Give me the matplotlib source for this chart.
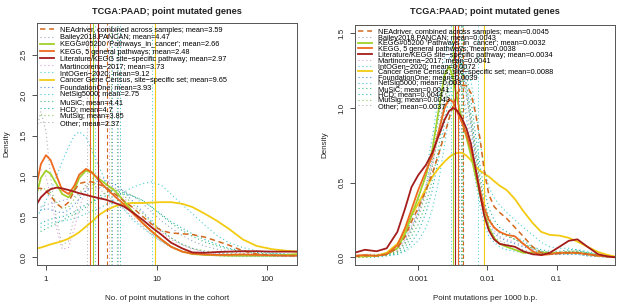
import numpy as np
import matplotlib
matplotlib.use("Agg")
import matplotlib.pyplot as plt

plt.rcParams['font.family'] = ['Liberation Sans', 'DejaVu Sans']

# --- legend / series names ---
names = ["NEAdriver, combined across samples", "Bailey2018.PANCAN",
         "KEGG#05200 'Pathways_in_cancer'", "KEGG, 5 general pathways",
         "Literature/KEGG site\u2212specific pathway", "Martincorena\u22122017",
         "IntOGen\u22122020", "Cancer Gene Census, site\u2212specific set",
         "FoundationOne", "NetSig5000", "MuSiC", "HCD", "MutSig", "Other"]
colors = ["#D2691E", "#9AA6C4", "#A2D12B", "#EE6A1F", "#A51C1C", "#D9A0D2",
          "#48CFCB", "#F2CB12", "#4A90D9", "#40C4E0", "#3CB878", "#20B2AA",
          "#82C95A", "#B0B0B0"]
styles = ["dash", "dot", "solid", "solid", "solid", "dot", "dot", "solid",
          "dot", "dot", "dot", "dot", "dot", "dot"]

means_left = [3.59, 4.47, 2.66, 2.48, 2.97, 3.73, 9.12, 9.65, 3.93, 2.75, 4.41, 4.7, 3.85, 2.37]
means_right = [0.0045, 0.0043, 0.0032, 0.0038, 0.0034, 0.0041, 0.0072, 0.0088,
               0.0039, 0.003, 0.0041, 0.0044, 0.0043, 0.0037]

# --- left panel: no. of point mutations in the cohort ---
x_left = [0.83, 0.9, 1.0, 1.1, 1.25, 1.4, 1.6, 1.8, 2.0, 2.3, 2.6, 3.0, 3.5, 4.2, 5.0,
          6.0, 7.5, 9.0, 11, 13.5, 17, 21, 27, 35, 45, 60, 80, 110, 150, 185]
neadriver_l = [0.85, 0.85, 0.82, 0.76, 0.66, 0.61, 0.68, 0.82, 0.91, 0.93, 0.93, 0.9, 0.86, 0.78, 0.7,
               0.62, 0.5, 0.41, 0.33, 0.3, 0.29, 0.28, 0.25, 0.2, 0.15, 0.08, 0.04, 0.025, 0.02, 0.02]
bailey_l = [0.6, 0.62, 0.65, 0.66, 0.68, 0.7, 0.72, 0.75, 0.78, 0.82, 0.85, 0.86, 0.86, 0.85, 0.82,
            0.76, 0.66, 0.56, 0.45, 0.36, 0.27, 0.2, 0.14, 0.1, 0.07, 0.05, 0.04, 0.03, 0.02, 0.02]
kegg05200_l = [0.8, 0.98, 1.07, 1.03, 0.9, 0.78, 0.74, 0.83, 0.98, 1.07, 1.04, 0.97, 0.9, 0.82, 0.7,
               0.57, 0.42, 0.32, 0.22, 0.13, 0.07, 0.04, 0.03, 0.025, 0.02, 0.02, 0.02, 0.02, 0.03, 0.04]
kegg5_l = [0.92, 1.15, 1.26, 1.2, 1.0, 0.83, 0.78, 0.88, 1.02, 1.09, 1.05, 0.95, 0.85, 0.75, 0.66,
           0.55, 0.42, 0.32, 0.22, 0.13, 0.07, 0.045, 0.035, 0.03, 0.03, 0.035, 0.03, 0.025, 0.02, 0.02]
literature_l = [0.66, 0.74, 0.8, 0.84, 0.86, 0.85, 0.83, 0.81, 0.79, 0.77, 0.75, 0.73, 0.71, 0.67, 0.63,
                0.56, 0.46, 0.37, 0.28, 0.18, 0.11, 0.06, 0.055, 0.065, 0.07, 0.075, 0.075, 0.07, 0.07, 0.07]
martincorena_l = [1.1, 1.08, 1.0, 0.75, 0.35, 0.1, 0.12, 0.35, 0.6, 0.85, 0.97, 1.0, 0.95, 0.86, 0.74,
                  0.62, 0.5, 0.4, 0.31, 0.22, 0.15, 0.1, 0.06, 0.04, 0.03, 0.02, 0.02, 0.02, 0.01, 0.01]
intogen_l = [0.35, 0.37, 0.4, 0.42, 0.44, 0.45, 0.46, 0.48, 0.5, 0.54, 0.57, 0.6, 0.65, 0.72, 0.8,
             0.86, 0.91, 0.93, 0.89, 0.78, 0.65, 0.54, 0.4, 0.27, 0.18, 0.12, 0.08, 0.05, 0.04, 0.03]
cgc_l = [0.11, 0.12, 0.14, 0.16, 0.18, 0.2, 0.23, 0.27, 0.31, 0.38, 0.44, 0.52, 0.58, 0.63, 0.66,
         0.67, 0.67, 0.675, 0.68, 0.68, 0.66, 0.62, 0.54, 0.45, 0.35, 0.22, 0.14, 0.1, 0.08, 0.07]
foundation_l = [0.55, 0.58, 0.6, 0.59, 0.56, 0.55, 0.58, 0.65, 0.72, 0.82, 0.9, 0.95, 0.94, 0.9, 0.82,
                0.7, 0.56, 0.44, 0.33, 0.24, 0.16, 0.11, 0.07, 0.05, 0.04, 0.03, 0.02, 0.02, 0.02, 0.02]
netsig_l = [0.5, 0.58, 0.7, 0.82, 1.0, 1.18, 1.36, 1.5, 1.55, 1.48, 1.32, 1.12, 0.92, 0.75, 0.6,
            0.47, 0.36, 0.28, 0.2, 0.13, 0.08, 0.05, 0.03, 0.02, 0.02, 0.01, 0.01, 0.01, 0.01, 0.01]
music_l = [0.3, 0.32, 0.35, 0.38, 0.42, 0.45, 0.5, 0.53, 0.56, 0.62, 0.68, 0.75, 0.8, 0.82, 0.8,
           0.76, 0.7, 0.62, 0.52, 0.42, 0.33, 0.26, 0.19, 0.14, 0.1, 0.07, 0.05, 0.04, 0.03, 0.03]
hcd_l = [0.4, 0.42, 0.45, 0.47, 0.49, 0.5, 0.53, 0.56, 0.6, 0.65, 0.69, 0.72, 0.76, 0.78, 0.78,
         0.76, 0.7, 0.62, 0.53, 0.44, 0.36, 0.29, 0.22, 0.16, 0.11, 0.08, 0.06, 0.05, 0.04, 0.03]
mutsig_l = [0.8, 0.83, 0.85, 0.8, 0.68, 0.6, 0.62, 0.72, 0.8, 0.87, 0.9, 0.9, 0.88, 0.84, 0.77,
            0.66, 0.54, 0.43, 0.33, 0.24, 0.16, 0.11, 0.08, 0.06, 0.05, 0.04, 0.03, 0.03, 0.02, 0.02]
other_l = [1.6, 1.8, 1.55, 1.0, 0.45, 0.15, 0.2, 0.5, 0.75, 0.9, 0.9, 0.85, 0.77, 0.68, 0.6,
           0.5, 0.38, 0.28, 0.19, 0.12, 0.07, 0.04, 0.03, 0.02, 0.01, 0.01, 0.01, 0.01, 0.01, 0.01]

# --- right panel: point mutations per 1000 b.p. ---
x_right = [1.2e-4, 1.7e-4, 2.5e-4, 3.5e-4, 5e-4, 6.5e-4, 8e-4, 1e-3, 1.3e-3, 1.6e-3, 2e-3, 2.4e-3,
           2.8e-3, 3.2e-3, 3.7e-3, 4.3e-3, 5e-3, 5.8e-3, 6.7e-3, 7.8e-3, 9e-3, 0.0105, 0.0125,
           0.015, 0.019, 0.025, 0.033, 0.045, 0.06, 0.08, 0.11, 0.15, 0.2, 0.28, 0.4, 0.55, 0.7]
neadriver_r = [0.005, 0.01, 0.01, 0.02, 0.06, 0.14, 0.24, 0.33, 0.45, 0.56, 0.7, 0.82, 0.93, 1.02, 1.1,
               1.15, 1.15, 1.1, 0.97, 0.8, 0.58, 0.42, 0.34, 0.3, 0.26, 0.2, 0.14, 0.07, 0.03, 0.02,
               0.025, 0.03, 0.03, 0.02, 0.01, 0.005, 0.0]
bailey_r = [0.005, 0.01, 0.01, 0.02, 0.04, 0.09, 0.17, 0.27, 0.42, 0.6, 0.85, 1.05, 1.22, 1.32, 1.35,
            1.3, 1.15, 0.95, 0.72, 0.5, 0.34, 0.25, 0.2, 0.17, 0.15, 0.12, 0.09, 0.06, 0.04, 0.03,
            0.03, 0.04, 0.04, 0.03, 0.015, 0.005, 0.0]
kegg05200_r = [0.01, 0.01, 0.01, 0.02, 0.06, 0.16, 0.28, 0.4, 0.55, 0.72, 1.0, 1.22, 1.28, 1.2, 1.05,
               0.92, 0.8, 0.68, 0.55, 0.42, 0.3, 0.2, 0.13, 0.09, 0.07, 0.05, 0.03, 0.03, 0.03, 0.03,
               0.03, 0.03, 0.03, 0.02, 0.01, 0.005, 0.0]
kegg5_r = [0.01, 0.015, 0.01, 0.02, 0.08, 0.2, 0.32, 0.45, 0.58, 0.68, 0.85, 1.0, 1.06, 1.04, 0.97,
           0.9, 0.82, 0.72, 0.6, 0.45, 0.33, 0.25, 0.2, 0.17, 0.15, 0.14, 0.09, 0.04, 0.015, 0.02,
           0.03, 0.03, 0.03, 0.02, 0.01, 0.005, 0.0]
literature_r = [0.03, 0.05, 0.04, 0.06, 0.17, 0.33, 0.47, 0.55, 0.62, 0.7, 0.82, 0.92, 0.98, 1.0, 0.98,
                0.93, 0.86, 0.76, 0.6, 0.43, 0.28, 0.18, 0.12, 0.09, 0.08, 0.07, 0.04, 0.02, 0.015, 0.03,
                0.07, 0.11, 0.12, 0.07, 0.02, 0.005, 0.0]
martincorena_r = [0.01, 0.01, 0.01, 0.02, 0.05, 0.12, 0.2, 0.3, 0.45, 0.62, 0.85, 1.02, 1.15, 1.22, 1.25,
                  1.2, 1.08, 0.9, 0.7, 0.5, 0.35, 0.25, 0.18, 0.14, 0.12, 0.1, 0.08, 0.05, 0.03, 0.02,
                  0.02, 0.03, 0.03, 0.02, 0.01, 0.005, 0.0]
intogen_r = [0.0, 0.0, 0.0, 0.01, 0.02, 0.04, 0.07, 0.11, 0.2, 0.32, 0.52, 0.75, 0.95, 1.12, 1.25,
             1.3, 1.28, 1.18, 1.0, 0.78, 0.6, 0.47, 0.4, 0.35, 0.3, 0.25, 0.2, 0.15, 0.1, 0.07,
             0.06, 0.06, 0.05, 0.04, 0.02, 0.01, 0.0]
cgc_r = [0.005, 0.005, 0.01, 0.03, 0.09, 0.18, 0.28, 0.36, 0.46, 0.54, 0.6, 0.64, 0.67, 0.69, 0.7,
         0.7, 0.68, 0.65, 0.61, 0.58, 0.56, 0.54, 0.51, 0.48, 0.45, 0.39, 0.31, 0.23, 0.17, 0.15,
         0.145, 0.13, 0.105, 0.07, 0.035, 0.015, 0.005]
foundation_r = [0.01, 0.01, 0.01, 0.02, 0.04, 0.1, 0.19, 0.3, 0.48, 0.68, 0.95, 1.18, 1.33, 1.4, 1.38,
                1.28, 1.1, 0.88, 0.66, 0.46, 0.32, 0.22, 0.16, 0.13, 0.11, 0.09, 0.07, 0.05, 0.03, 0.02,
                0.02, 0.02, 0.02, 0.01, 0.005, 0.0, 0.0]
netsig_r = [0.01, 0.015, 0.01, 0.02, 0.06, 0.14, 0.25, 0.38, 0.58, 0.8, 1.1, 1.32, 1.45, 1.42, 1.3,
            1.12, 0.92, 0.72, 0.52, 0.35, 0.22, 0.14, 0.1, 0.07, 0.05, 0.04, 0.03, 0.02, 0.02, 0.02,
            0.02, 0.02, 0.02, 0.01, 0.005, 0.0, 0.0]
music_r = [0.0, 0.005, 0.01, 0.015, 0.03, 0.07, 0.14, 0.22, 0.36, 0.52, 0.75, 0.98, 1.15, 1.27, 1.32,
           1.28, 1.15, 0.96, 0.75, 0.55, 0.38, 0.27, 0.2, 0.16, 0.14, 0.12, 0.09, 0.06, 0.04, 0.03,
           0.03, 0.04, 0.04, 0.03, 0.015, 0.005, 0.0]
hcd_r = [0.0, 0.0, 0.005, 0.01, 0.02, 0.05, 0.1, 0.17, 0.3, 0.45, 0.68, 0.9, 1.08, 1.2, 1.28,
         1.3, 1.22, 1.05, 0.83, 0.62, 0.45, 0.33, 0.25, 0.2, 0.17, 0.14, 0.11, 0.07, 0.05, 0.04,
         0.04, 0.05, 0.05, 0.03, 0.015, 0.005, 0.0]
mutsig_r = [0.005, 0.01, 0.01, 0.02, 0.04, 0.1, 0.18, 0.28, 0.44, 0.62, 0.86, 1.06, 1.2, 1.27, 1.28,
            1.22, 1.08, 0.9, 0.7, 0.5, 0.35, 0.26, 0.2, 0.17, 0.15, 0.12, 0.09, 0.06, 0.04, 0.03,
            0.03, 0.04, 0.04, 0.03, 0.015, 0.005, 0.0]
other_r = [0.01, 0.02, 0.02, 0.03, 0.06, 0.12, 0.21, 0.32, 0.48, 0.65, 0.88, 1.06, 1.18, 1.22, 1.2,
           1.12, 0.98, 0.8, 0.6, 0.42, 0.28, 0.19, 0.14, 0.11, 0.09, 0.07, 0.05, 0.03, 0.02, 0.02,
           0.02, 0.02, 0.02, 0.01, 0.005, 0.0, 0.0]

left_series = [neadriver_l, bailey_l, kegg05200_l, kegg5_l, literature_l, martincorena_l, intogen_l,
               cgc_l, foundation_l, netsig_l, music_l, hcd_l, mutsig_l, other_l]
right_series = [neadriver_r, bailey_r, kegg05200_r, kegg5_r, literature_r, martincorena_r, intogen_r,
                cgc_r, foundation_r, netsig_r, music_r, hcd_r, mutsig_r, other_r]


def line_kw(i):
    kw = dict(color=colors[i])
    if styles[i] == "solid":
        kw.update(lw=1.3, ls="-")
    elif styles[i] == "dash":
        kw.update(lw=1.1, ls=(0, (3.5, 2.5)))
    else:
        kw.update(lw=0.8, ls=(0, (1, 2.5)))
    return kw


# draw order: dotted first, then solid/dashed on top
order = [1, 5, 6, 8, 9, 10, 11, 12, 13, 7, 2, 3, 0, 4]

W, H = 617, 305
fig = plt.figure(figsize=(W / 100, H / 100), dpi=100)
axl = fig.add_axes([37 / W, 1 - 265 / H, 260 / W, 242 / H])
axr = fig.add_axes([355 / W, 1 - 265 / H, 260 / W, 240 / H])

panels = [
    (axl, x_left, left_series, means_left, "No. of point mutations in the cohort",
     (0.83, 185), (-0.095, 2.89), [0, 0.5, 1.0, 1.5, 2.0, 2.5], [1, 10, 100], ["1", "10", "100"],
     0.0, 242),
    (axr, x_right, right_series, means_right, "Point mutations per 1000 b.p.",
     (1.22e-4, 0.70), (-0.052, 1.556), [0, 0.5, 1.0, 1.5], [0.001, 0.01, 0.1],
     ["0.001", "0.01", "0.1"], -0.2, 240),
]

for ax, xs, series, means, xlabel, xlim, ylim, yt, xt, xtl, lsp, hpx in panels:
    handles = [None] * len(names)
    for i in order:
        kw = line_kw(i)
        h, = ax.plot(xs, series[i], **kw)
        handles[i] = h
        vkw = dict(kw)
        vkw["lw"] = 0.8 if styles[i] != "dot" else 0.7
        ax.axvline(means[i], **vkw)
    ax.set_xscale("log")
    ax.set_xlim(*xlim)
    ax.set_ylim(*ylim)
    ax.set_xticks(xt)
    ax.set_xticklabels(xtl)
    ax.minorticks_off()
    ax.set_yticks(yt)
    ax.set_yticklabels(["{:.1f}".format(v) for v in yt], rotation=90, va="center")
    ax.tick_params(direction="out", length=3.6, width=0.6, labelsize=5.8, colors="#333333",
                   labelcolor="#222222")
    ax.tick_params(axis="x", pad=4.5)
    ax.tick_params(axis="y", pad=3.2)
    for s in ax.spines.values():
        s.set_linewidth(0.7)
        s.set_color("#555555")
    ax.set_xlabel(xlabel, fontsize=5.8, color="#222222", va="center")
    ax.set_ylabel("Density", fontsize=5.8, color="#222222", va="center")
    ax.xaxis.set_label_coords(0.5, -(299 - 265) / hpx)
    ax.yaxis.set_label_coords(-30 / 260, 0.5)
    labels = ["{}; mean={:g}".format(n, m) for n, m in zip(names, means)]
    ax.legend(handles, labels, loc="upper left", bbox_to_anchor=(0.005, 0.99), frameon=False,
              fontsize=5.3, handlelength=1.9, handletextpad=0.8, labelspacing=lsp,
              borderaxespad=0, borderpad=0.2)
    pos = ax.get_position()
    fig.text((pos.x0 + pos.x1) / 2, 1 - 12 / H, "TCGA:PAAD; point mutated genes",
             ha="center", va="center", fontsize=6.6, fontweight="bold", color="#222222")

fig.savefig("out.png", dpi=100)
